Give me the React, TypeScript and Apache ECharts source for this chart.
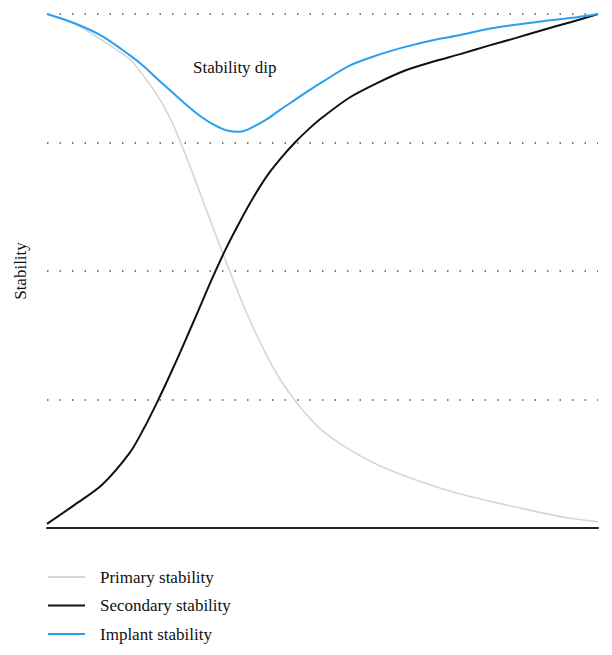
import React, { useEffect, useRef } from "react";
import * as echarts from "echarts";

const xValues = [0, 5, 10, 15, 17.5, 20, 22.5, 25, 27.5, 30, 32.5, 35, 37.5, 40, 42.5, 45, 47.5, 50, 55, 60, 65, 70, 75, 80, 85, 90, 95, 100];
const primary = [100, 98.1, 94.9, 91.2, 88.0, 84.2, 79.4, 73.0, 66.0, 58.8, 51.8, 45.0, 38.8, 33.3, 28.6, 24.8, 21.6, 18.9, 15.2, 12.3, 10.1, 8.2, 6.6, 5.3, 4.1, 2.9, 1.9, 1.2];
const secondary = [0.8, 4.5, 8.4, 14.6, 19.2, 24.5, 30.2, 36.2, 42.4, 48.6, 54.4, 59.6, 64.4, 68.6, 72.0, 75.0, 77.6, 79.9, 83.8, 86.6, 89.0, 90.7, 92.2, 93.8, 95.3, 96.9, 98.4, 100];
const implant = [100, 98.2, 95.7, 92.0, 89.9, 87.4, 85.0, 82.6, 80.4, 78.6, 77.4, 77.1, 78.1, 79.6, 81.5, 83.3, 85.1, 86.8, 90.0, 92.0, 93.6, 94.9, 95.9, 97.1, 97.9, 98.6, 99.2, 100];

const seriesNames = ["Primary stability", "Secondary stability", "Implant stability"];
const seriesColors = ["#d6d6d6", "#111111", "#2a9ff0"];
const seriesWidths = [1.6, 2, 2];
const yTicks = [0, 25, 50, 75, 100];
const annotation = "Stability dip";
const yName = "Stability";

const FONT = "'Liberation Serif', 'DejaVu Serif', serif";

export default function App() {
  const ref = useRef<HTMLDivElement>(null);
  useEffect(() => {
    document.body.style.margin = "0";
    if (!ref.current) return;
    const chart = echarts.init(ref.current, undefined, { renderer: "svg" });
    const datasets = [primary, secondary, implant];
    chart.setOption({
      animation: false,
      backgroundColor: "#ffffff",
      textStyle: { fontFamily: FONT },
      grid: { left: 47, right: 14, top: 14, bottom: 127, containLabel: false },
      xAxis: {
        type: "value",
        min: 0,
        max: 100,
        axisLine: { show: true, lineStyle: { color: "#222", width: 2 } },
        axisTick: { show: false },
        axisLabel: { show: false },
        splitLine: { show: false },
      },
      yAxis: {
        type: "value",
        min: yTicks[0],
        max: yTicks[yTicks.length - 1],
        interval: yTicks[1] - yTicks[0],
        name: yName,
        nameLocation: "middle",
        nameGap: 18,
        nameRotate: 90,
        nameTextStyle: { fontFamily: FONT, fontSize: 17, color: "#111" },
        axisLine: { show: false },
        axisTick: { show: false },
        axisLabel: { show: false },
        splitLine: {
          show: true,
          lineStyle: { color: "#555", width: 1.5, type: [1.5, 11] },
        },
      },
      legend: {
        show: true,
        orient: "vertical",
        left: 47,
        top: 568.5,
        padding: 0,
        itemWidth: 37,
        itemHeight: 16,
        itemGap: 11.5,
        itemStyle: { opacity: 0 },
        data: seriesNames,
        textStyle: {
          fontFamily: FONT,
          fontSize: 17,
          color: "#111",
          lineHeight: 16,
          padding: [0, 0, 0, 10],
        },
      },
      graphic: [
        {
          type: "text",
          left: 193,
          top: 59,
          style: { text: annotation, font: `17px ${FONT}`, fill: "#111" },
        },
      ],
      series: datasets.map((d, i) => ({
        name: seriesNames[i],
        type: "line",
        data: xValues.map((x, j) => [x, d[j]]),
        smooth: 0.3,
        showSymbol: false,
        symbol: "none",
        color: seriesColors[i],
        lineStyle: { color: seriesColors[i], width: seriesWidths[i] },
        z: 2 + i,
      })),
    });
    return () => chart.dispose();
  }, []);
  return <div ref={ref} style={{ width: 612, height: 655 }} />;
}
